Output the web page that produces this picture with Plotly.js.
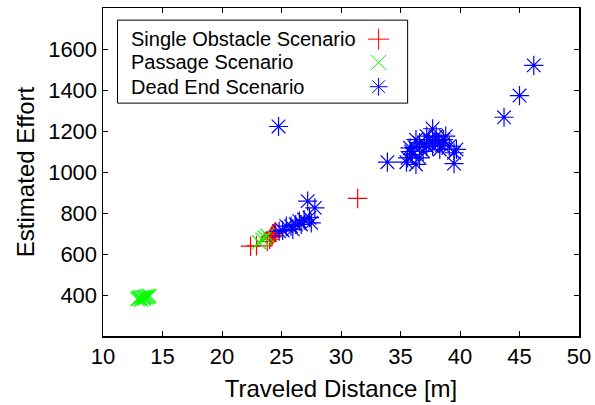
<!DOCTYPE html>
<html>
<head>
<meta charset="utf-8">
<script src="https://cdn.plot.ly/plotly-3.0.1.min.js"></script>
<style>html,body{margin:0;padding:0;background:#fff;}#chart{width:595px;height:405px;}</style>
</head>
<body>
<div id="chart"></div>
<script>
// ---- data ----
var seriesNames = ["Single Obstacle Scenario", "Passage Scenario", "Dead End Scenario"];

var singleX = [22.4, 22.9, 23.8, 24.0, 24.1, 24.2, 24.3, 24.4, 24.5, 24.2, 31.4];
var singleY = [638, 640, 662, 672, 682, 690, 698, 704, 708, 685, 871];

var passageX = [12.9, 13.0, 13.1, 13.2, 13.3, 13.4, 13.5, 13.6, 13.7, 13.8, 13.9, 13.45, 23.1, 23.4, 23.6, 23.8];
var passageY = [380, 384, 388, 378, 390, 386, 392, 388, 395, 390, 396, 382, 658, 670, 680, 690];

var deadX = [24.8, 25.1, 25.4, 25.8, 25.95, 26.2, 26.5, 26.65, 26.9, 27.35, 27.5, 27.2, 27.8,
             24.75,
             33.9, 35.5, 36.3, 39.5, 39.5, 37.7, 36.3, 35.8, 38.8, 37.2, 38.3, 39.7, 36.0, 36.9,
             36.6, 37.4, 38.6, 38.0, 39.1, 35.6, 36.6, 37.7, 37.2, 38.3, 37.0, 37.9, 38.5, 36.2, 35.9,
             43.7, 45.0, 46.2];
var deadY = [711, 715, 736, 736, 720, 744, 760, 744, 768, 777, 752, 858, 825,
             1222,
             1048, 1048, 1037, 1041, 1094, 1211, 1158, 1118, 1175, 1126, 1142, 1110, 1085, 1101,
             1142, 1158, 1158, 1175, 1126, 1069, 1069, 1126, 1175, 1110, 1140, 1150, 1130, 1120, 1100,
             1267, 1373, 1520];

var xTicks = [10, 15, 20, 25, 30, 35, 40, 45, 50];
var yTicks = [400, 600, 800, 1000, 1200, 1400, 1600];

// ---- styles ----
var FONT = "Liberation Sans, Arial, Helvetica, sans-serif";
var styles = [
  {symbol: "cross-thin-open", color: "#ff0000", size: 14},
  {symbol: "x-thin-open", color: "#00ff00", size: 14},
  {symbol: "asterisk-open", color: "#0000ff", size: 16}
];
var seriesX = [singleX, passageX, deadX];
var seriesY = [singleY, passageY, deadY];

var traces = [];
for (var i = 0; i < 3; i++) {
  traces.push({
    type: "scatter", mode: "markers", name: seriesNames[i],
    x: seriesX[i], y: seriesY[i], showlegend: false, cliponaxis: false,
    marker: {symbol: styles[i].symbol, size: styles[i].size, color: styles[i].color,
             line: {color: styles[i].color, width: 1.2}}
  });
}

// custom legend (text left, symbol right), positioned in paper space
var legRowY = [0.905, 0.834, 0.760];
var legSymX = 0.579;
var annotations = [];
for (var j = 0; j < 3; j++) {
  annotations.push({xref: "paper", yref: "paper", x: 0.0537, y: legRowY[j], xanchor: "left", yanchor: "middle",
    text: seriesNames[j], showarrow: false, font: {family: FONT, size: 20, color: "#000"}});
  traces.push({
    type: "scatter", mode: "markers", xaxis: "x2", yaxis: "y2", showlegend: false, hoverinfo: "skip",
    x: [legSymX], y: [legRowY[j]],
    marker: {symbol: styles[j].symbol, size: 15, color: styles[j].color,
             line: {color: styles[j].color, width: 1}}
  });
}

var axisCommon = {
  showgrid: false, zeroline: false, showline: true, linecolor: "#000", linewidth: 1.5,
  mirror: "ticks", ticks: "inside", ticklen: 5, tickwidth: 1, tickcolor: "#000",
  tickfont: {family: FONT, size: 22, color: "#000"}
};

var layout = {
  width: 595, height: 405,
  margin: {l: 103, r: 16, t: 8, b: 69},
  paper_bgcolor: "#fff", plot_bgcolor: "#fff",
  showlegend: false,
  xaxis: Object.assign({}, axisCommon, {range: [10, 50], tickvals: xTicks,
    title: {text: "Traveled Distance [m]", font: {family: FONT, size: 24, color: "#000"}, standoff: 12}}),
  yaxis: Object.assign({}, axisCommon, {range: [200, 1800], tickvals: yTicks,
    title: {text: "Estimated Effort", font: {family: FONT, size: 24, color: "#000"}, standoff: 6}}),
  xaxis2: {overlaying: "x", range: [0, 1], visible: false, fixedrange: true},
  yaxis2: {overlaying: "y", range: [0, 1], visible: false, fixedrange: true},
  shapes: [{type: "rect", xref: "paper", yref: "paper", x0: 0.0305, x1: 0.640, y0: 0.710, y1: 0.963,
    line: {color: "#000", width: 1}, fillcolor: "rgba(0,0,0,0)", layer: "above"}],
  annotations: annotations
};

Plotly.newPlot("chart", traces, layout, {staticPlot: true, displayModeBar: false});
</script>
</body>
</html>
